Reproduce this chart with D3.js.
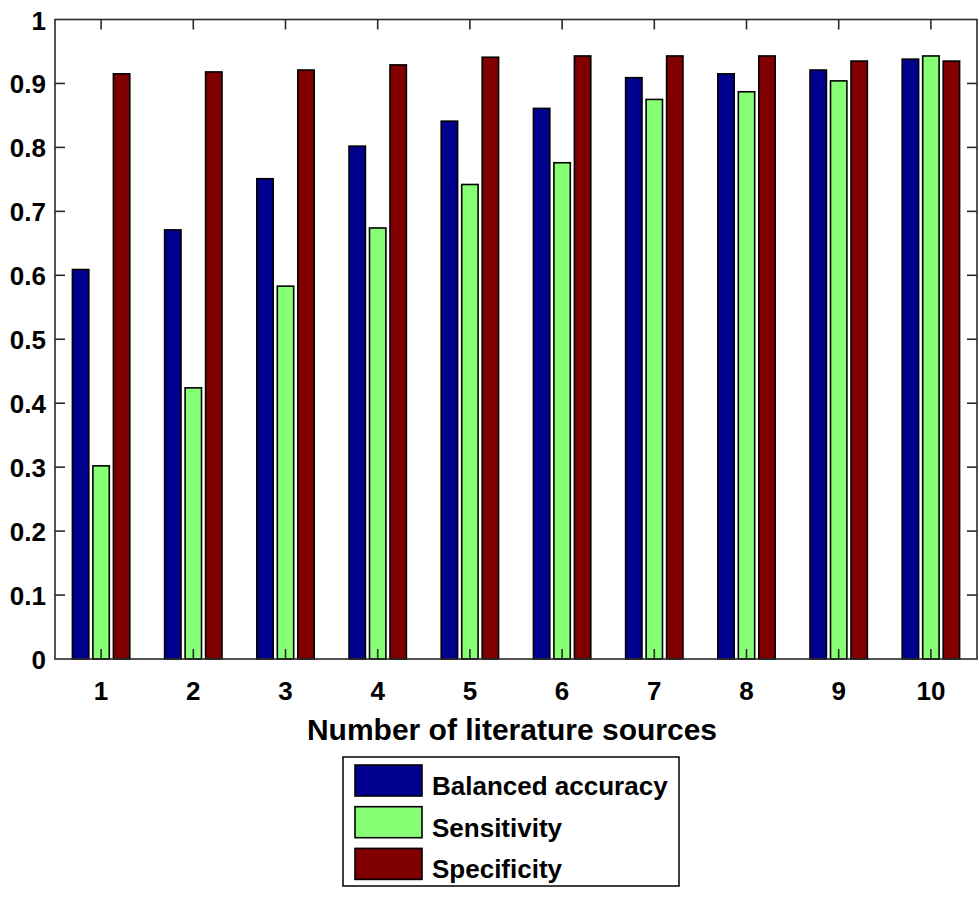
<!DOCTYPE html>
<html>
<head>
<meta charset="utf-8">
<script src="https://cdn.jsdelivr.net/npm/d3@7"></script>
<style>
  html, body { margin: 0; padding: 0; background: #fff; }
  svg { display: block; }
  text { font-family: "Liberation Sans", Arial, sans-serif; fill: #000; }
</style>
</head>
<body>
<svg id="chart" width="979" height="898"></svg>
<script>
// ---- data ----
const categories = [1, 2, 3, 4, 5, 6, 7, 8, 9, 10];
const seriesNames = ["Balanced accuracy", "Sensitivity", "Specificity"];
const balancedAccuracy = [0.609, 0.671, 0.751, 0.802, 0.841, 0.861, 0.909, 0.915, 0.921, 0.938];
const sensitivity      = [0.302, 0.424, 0.583, 0.674, 0.742, 0.776, 0.875, 0.887, 0.904, 0.943];
const specificity      = [0.915, 0.918, 0.921, 0.929, 0.941, 0.943, 0.943, 0.943, 0.935, 0.935];
const yTicks = [0, 0.1, 0.2, 0.3, 0.4, 0.5, 0.6, 0.7, 0.8, 0.9, 1];
const yTickLabels = ["0", "0.1", "0.2", "0.3", "0.4", "0.5", "0.6", "0.7", "0.8", "0.9", "1"];
const xLabel = "Number of literature sources";
const colors = ["#00008f", "#86ff74", "#800000"];

const series = [balancedAccuracy, sensitivity, specificity];

// ---- layout ----
const svg = d3.select("#chart");
const pLeft = 55, pRight = 977, pTop = 19.5, pBottom = 659;

const x = d3.scaleLinear().domain([0.5, 10.5]).range([pLeft, pRight]);
const y = d3.scaleLinear().domain([0, 1]).range([pBottom, pTop]);

const nS = series.length;
const groupW = Math.min(0.8, nS / (nS + 1.5));
const step = groupW / nS;
const barW = step * 0.8;

// bars
series.forEach((vals, si) => {
  const off = (si - (nS - 1) / 2) * step;
  svg.append("g").selectAll("rect")
    .data(vals)
    .join("rect")
    .attr("x", (d, i) => x(categories[i] + off - barW / 2))
    .attr("width", x(barW) - x(0))
    .attr("y", d => y(d))
    .attr("height", d => y(0) - y(d))
    .attr("fill", colors[si])
    .attr("stroke", "#000")
    .attr("stroke-width", 1.6);
});

// frame
svg.append("rect")
  .attr("x", pLeft).attr("y", pTop)
  .attr("width", pRight - pLeft).attr("height", pBottom - pTop)
  .attr("fill", "none").attr("stroke", "#2a2a2a").attr("stroke-width", 1.6);

const tickLen = 10;
// y ticks (inward, both sides)
const yt = svg.append("g");
yTicks.forEach((t, i) => {
  if (t > 0 && t < 1) {
    yt.append("line").attr("x1", pLeft).attr("x2", pLeft + tickLen)
      .attr("y1", y(t)).attr("y2", y(t)).attr("stroke", "#2a2a2a").attr("stroke-width", 1.6);
    yt.append("line").attr("x1", pRight).attr("x2", pRight - tickLen)
      .attr("y1", y(t)).attr("y2", y(t)).attr("stroke", "#2a2a2a").attr("stroke-width", 1.6);
  }
  yt.append("text")
    .attr("x", 46).attr("y", y(t) + 1)
    .attr("text-anchor", "end")
    .attr("dominant-baseline", "central")
    .attr("font-size", 26)
    .attr("font-weight", "bold")
    .text(yTickLabels[i]);
});

// x ticks (inward, top and bottom)
const xt = svg.append("g");
categories.forEach(c => {
  xt.append("line").attr("x1", x(c)).attr("x2", x(c))
    .attr("y1", pBottom).attr("y2", pBottom - tickLen).attr("stroke", "#2a2a2a").attr("stroke-width", 1.6);
  xt.append("line").attr("x1", x(c)).attr("x2", x(c))
    .attr("y1", pTop).attr("y2", pTop + tickLen).attr("stroke", "#2a2a2a").attr("stroke-width", 1.6);
  xt.append("text")
    .attr("x", x(c)).attr("y", 691)
    .attr("text-anchor", "middle")
    .attr("dominant-baseline", "central")
    .attr("font-size", 26)
    .attr("font-weight", "bold")
    .text(c);
});

// x axis label
svg.append("text")
  .attr("x", 512).attr("y", 729)
  .attr("text-anchor", "middle")
  .attr("dominant-baseline", "central")
  .attr("font-size", 30)
  .attr("font-weight", "bold")
  .text(xLabel);

// legend
const lg = svg.append("g");
lg.append("rect")
  .attr("x", 343).attr("y", 757).attr("width", 336).attr("height", 129)
  .attr("fill", "#fff").attr("stroke", "#000").attr("stroke-width", 1.5);
seriesNames.forEach((name, i) => {
  const ry = 765 + i * 41.7;
  lg.append("rect")
    .attr("x", 355).attr("y", ry).attr("width", 67).attr("height", 31)
    .attr("fill", colors[i]).attr("stroke", "#000").attr("stroke-width", 1.6);
  lg.append("text")
    .attr("x", 432).attr("y", ry + 21)
    .attr("dominant-baseline", "central")
    .attr("font-size", 26)
    .attr("font-weight", "bold")
    .text(name);
});
</script>
</body>
</html>
